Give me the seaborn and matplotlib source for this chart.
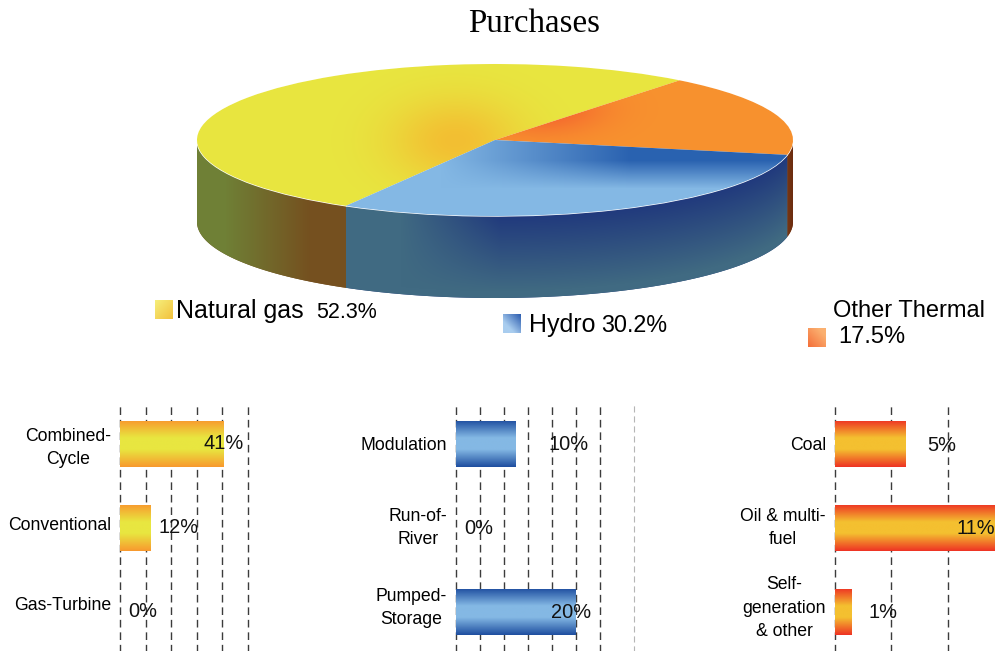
import numpy as np
import pandas as pd
import seaborn as sns
import matplotlib.pyplot as plt
from matplotlib.colors import to_rgb
from matplotlib.patches import Polygon
from matplotlib.transforms import ScaledTranslation

# Data
pie_names = ['Natural gas', 'Other Thermal', 'Hydro']
pie_values = [52.3, 17.5, 30.2]

gas_names = ['Combined-\nCycle', 'Conventional', 'Gas-Turbine']
gas_values = [40.5, 11.8, 0]
gas_labels = ['41%', '12%', '0%']

hydro_names = ['Modulation', 'Run-of-\nRiver', 'Pumped-\nStorage']
hydro_values = [10, 0, 20]
hydro_labels = ['10%', '0%', '20%']

thermal_names = ['Coal', 'Oil & multi-\nfuel', 'Self-\ngeneration\n& other']
thermal_values = [5, 11.3, 1.2]
thermal_labels = ['5%', '11%', '1%']

W, H = 1000, 651
CX, CY, RX, RY, DEPTH = 495, 140, 298, 76, 82

sns.set_style('white')
plt.rcParams['font.family'] = ['Liberation Sans', 'DejaVu Sans']
plt.rcParams['text.color'] = 'black'
plt.rcParams['ytick.color'] = 'black'

fig = plt.figure(figsize=(W / 100, H / 100), dpi=100)


def px_axes(left, top, right, bottom, **kw):
    return fig.add_axes([left / W, 1 - bottom / H, (right - left) / W, (bottom - top) / H], **kw)


def mix(c1, c2, w):
    # blend two colours with a weight array, gives an rgb image
    c1, c2 = np.array(to_rgb(c1)), np.array(to_rgb(c2))
    return c1 + (c2 - c1) * np.clip(w, 0, 1)[..., None]


# ---- pie, drawn in an axes where the unit circle is the squashed top face
pie_ax = px_axes(CX - RX, CY - RY, CX + RX, CY + RY + DEPTH)
wedges, _ = pie_ax.pie(pie_values, startangle=240, counterclock=False, radius=1,
                       colors=['#e8e640', '#f8922e', '#84b8e4'], frame=True)
pie_ax.set_aspect('auto')
pie_ax.set_xlim(-1, 1)
pie_ax.set_ylim(-1 - DEPTH / RY, 1)
pie_ax.axis('off')

# pixel grid for the shading
yy, xx = np.mgrid[CY - RY:CY + RY + DEPTH, CX - RX:CX + RX]
extent = (-1, 1, -1 - DEPTH / RY, 1)
edge = CY + RY * np.sqrt(np.clip(1 - ((xx - CX) / RX) ** 2, 0, 1))
t = (yy - edge) / DEPTH

top_imgs = [
    mix('#e8e640', '#f3bf32', np.exp(-((xx - 455) / 65) ** 2 - ((yy - 140) / 42) ** 2)),
    mix('#f8922e', '#f4622e', np.exp(-((xx - 540) / 60) ** 2 - ((yy - 108) / 24) ** 2)),
    mix('#84b8e4', '#2a62b0', np.clip((xx - 440) / 190, 0, 1) * np.clip((188 - yy) / 28, 0, 1)),
]
side_imgs = [
    mix('#6f8036', '#75501f', (xx - 225) / 85),
    mix('#7a3a12', '#6a2a10', (xx - 785) / 8),
    mix('#406a82', '#213a7d', np.clip((xx - 400) / 100, 0, 1) * (1 - t * 1.1)),
]

# sides first, only the part of each slice facing the viewer
for wedge, img in zip(wedges, side_imgs):
    a0, a1 = wedge.theta1 % 360, wedge.theta2 % 360
    if a1 <= a0:
        a1 += 360
    a = np.radians(np.linspace(max(a0, 180), min(a1, 360), 90))
    xs, ys = np.cos(a), np.sin(a)
    # upper rim a bit inside the top face so no seam shows
    pts = np.r_[np.c_[xs, ys + 0.03], np.c_[xs, ys - DEPTH / RY][::-1]]
    poly = Polygon(pts, closed=True, facecolor=img[img.shape[0] // 2, img.shape[1] // 2],
                   edgecolor='none', zorder=1)
    pie_ax.add_patch(poly)
    im = pie_ax.imshow(img, extent=extent, origin='upper', aspect='auto', zorder=1.5)
    im.set_clip_path(poly)

for wedge, img in zip(wedges, top_imgs):
    wedge.set_zorder(3)
    im = pie_ax.imshow(img, extent=extent, origin='upper', aspect='auto', zorder=3.5)
    im.set_clip_path(wedge)

pie_ax.set_xlim(-1, 1)
pie_ax.set_ylim(-1 - DEPTH / RY, 1)

# ---- the three small bar panels
panels = [
    dict(names=gas_names, values=gas_values, labels=gas_labels,
         rect=(120, 248), xmax=50, ticks=[0, 10, 20, 30, 40, 50], label_px=[203, 159, 128],
         label_dy=[-1.5, -1.5, -1.5], edge='#f89a2e', mid='#e8e640'),
    dict(names=hydro_names, values=hydro_values, labels=hydro_labels,
         rect=(456, 636), xmax=30, ticks=[0, 4, 8, 12, 16, 20, 24], label_px=[549, 464, 551],
         label_dy=[0, 0, 0], edge='#1f4fa0', mid='#84b8e4'),
    dict(names=thermal_names, values=thermal_values, labels=thermal_labels,
         rect=(835, 1000), xmax=11.7, ticks=[0, 4, 8], label_px=[927, 956, 868],
         label_dy=[0.5, 0, 0], edge='#ee3424', mid='#f4c030'),
]
# category names sit closer together than the bars
name_shift_px = [1, 5, 9]

for p in panels:
    ax = px_axes(p['rect'][0], 402, p['rect'][1], 654)
    df = pd.DataFrame({'name': p['names'], 'value': p['values']})
    sns.barplot(data=df, y='name', x='value', ax=ax, width=0.55, color=p['mid'],
                edgecolor='none', zorder=3)
    ax.set_xlim(0, p['xmax'])
    ax.set_ylim(2.5, -0.5)
    ax.set_xlabel('')
    ax.set_ylabel('')
    ax.set_xticks([])
    sns.despine(ax=ax, left=True, bottom=True)
    ax.patch.set_alpha(0)
    ax.tick_params(axis='y', length=0, pad=6.5)
    for lab, shift in zip(ax.get_yticklabels(), name_shift_px):
        lab.set_fontsize(12.7)
        lab.set_multialignment('center')
        lab.set_linespacing(1.47)
        lab.set_transform(lab.get_transform() + ScaledTranslation(0, shift / 100, fig.dpi_scale_trans))
    for x in p['ticks']:
        ax.axvline(x, color='#3c3c3c', lw=1, ls=(0, (5.5, 3.5)), zorder=1, clip_on=False)
    if p['xmax'] == 30:
        ax.axvline(29.7, color='#b5b5b5', lw=0.8, ls=(0, (5.5, 3.5)), zorder=1)
    # vertical gradient inside every bar
    ramp = np.abs(np.linspace(-1, 1, 64)).reshape(-1, 1)
    grad = mix(p['mid'], p['edge'], (ramp - 0.25) / 0.75)
    for bar in ax.patches:
        if bar.get_width() > 0:
            x0, y0, w, h = bar.get_bbox().bounds
            im = ax.imshow(grad, extent=(x0, x0 + w, y0 + h, y0), aspect='auto', zorder=4)
            im.set_clip_path(bar)
    ax.set_xlim(0, p['xmax'])
    ax.set_ylim(2.5, -0.5)
    p['ax'] = ax

# ---- overlay for texts, in picture pixels
over = fig.add_axes([0, 0, 1, 1], zorder=10)
over.patch.set_alpha(0)
over.axis('off')

for p in panels:
    for lab, lx, dy, row in zip(p['labels'], p['label_px'], p['label_dy'], range(3)):
        cy = p['ax'].transData.transform((0, row))[1]
        over.text(lx, H - cy + 0.5 + dy, lab, fontsize=14.4, va='center', ha='left', color='#111111')

over.text(534, 24, 'Purchases', family=['Liberation Serif'], fontsize=23.8, ha='center', va='center')

over.text(176, 311, pie_names[0], fontsize=18, va='center')
over.text(316, 312, f'{pie_values[0]}%', fontsize=15.5, va='center')
over.text(529, 325, pie_names[2], fontsize=18, va='center')
over.text(601, 326, f'{pie_values[2]}%', fontsize=16.8, va='center')
over.text(833, 311, pie_names[1], fontsize=17, va='center')
over.text(838, 337, f'{pie_values[1]}%', fontsize=17, va='center')

# legend swatches
sw_y = np.linspace(0, 1, 20)
sw_x = np.linspace(0, 1, 20)
sx, sy = np.meshgrid(sw_x, sw_y)
over.imshow(mix('#f6ee7a', '#f2c23e', (sx + sy) / 2), extent=(155, 173, 319, 300), aspect='auto')
over.imshow(mix('#2f5fb0', '#a9cdef', (1 - sx + sy) / 1.4), extent=(503, 521, 333, 314), aspect='auto')
over.imshow(mix('#f4703a', '#fbb070', (sx + 1 - sy) / 1.6), extent=(808, 826, 347, 328), aspect='auto')

over.set_xlim(0, W)
over.set_ylim(H, 0)

fig.savefig('out.png', dpi=100, facecolor='white')
